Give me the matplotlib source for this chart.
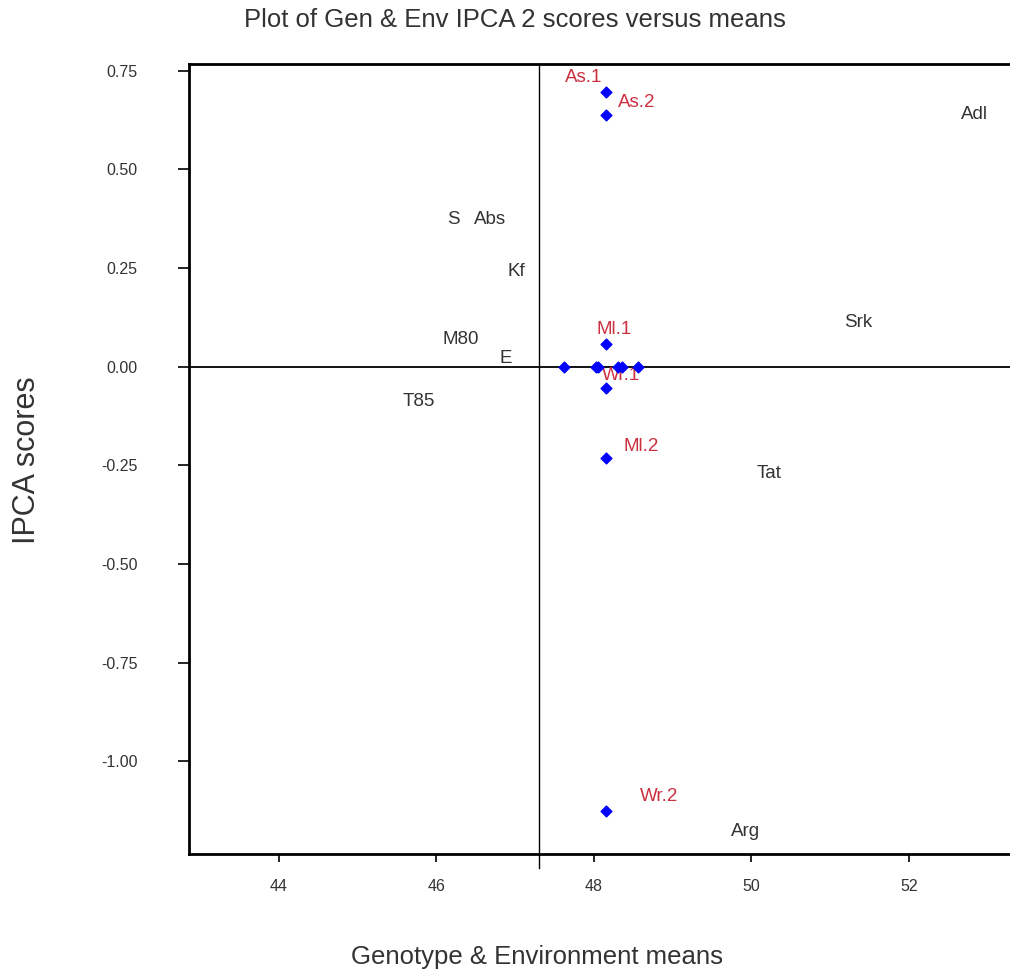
import matplotlib
matplotlib.use("Agg")
import matplotlib.pyplot as plt

plt.rcParams['font.family'] = ['Liberation Sans Narrow', 'Liberation Sans', 'DejaVu Sans']

# genotype labels (text only)
gen_names = ['S', 'Abs', 'Kf', 'M80', 'E', 'T85', 'Adl', 'Srk', 'Tat', 'Arg']
gen_x = [46.21, 46.68, 47.02, 46.31, 46.88, 45.78, 52.84, 51.36, 50.23, 49.93]
gen_y = [0.374, 0.374, 0.241, 0.068, 0.021, -0.089, 0.638, 0.111, -0.270, -1.178]

# environment points (blue) with red labels
env_names = ['As.1', 'As.2', 'Ml.1', 'Wr.1', 'Ml.2', 'Wr.2']
env_x = [48.16, 48.16, 48.16, 48.16, 48.16, 48.16]
env_y = [0.697, 0.637, 0.058, -0.054, -0.232, -1.125]

# further points lying on the zero line
zero_x = [47.62, 48.03, 48.05, 48.31, 48.36, 48.56]
zero_y = [0.0, 0.0, 0.0, 0.0, 0.0, 0.0]

grand_mean = 47.30

# label offsets in pixels relative to the point
env_offsets = [(-23, 14), (30, 13), (8, 14), (15, 13), (35, 12), (53, 14)]

fig = plt.figure(figsize=(10.1, 9.73), dpi=100)
ax = fig.add_axes([0.1871, 0.1223, 0.8139, 0.8119])

xlim = (42.856, 53.3)
ylim = (-1.2346, 0.767)
ax.set_xlim(*xlim)
ax.set_ylim(*ylim)

txt_col = '#333333'
red_col = '#cc3040'

for n, x, y in zip(gen_names, gen_x, gen_y):
    ax.text(x, y, n, ha='center', va='center', fontsize=13.5, color=txt_col)

for n, x, y, off in zip(env_names, env_x, env_y, env_offsets):
    ax.annotate(n, (x, y), xytext=off, textcoords='offset pixels',
                ha='center', va='center', fontsize=13.5, color=red_col, zorder=2)

ax.axhline(0, color='black', lw=1.3, zorder=1)
ax.plot([grand_mean, grand_mean], [ylim[1], ylim[0] - 0.036],
        color='black', lw=1.0, clip_on=False, zorder=1)

ax.scatter(env_x, env_y, marker='D', s=30, color='#0000ff', zorder=3)
ax.scatter(zero_x, zero_y, marker='D', s=30, color='#0000ff', zorder=3)

for s in ['left', 'top', 'bottom']:
    ax.spines[s].set_linewidth(2)
ax.spines['right'].set_visible(False)

ax.set_xticks([44, 46, 48, 50, 52])
ax.set_yticks([0.75, 0.5, 0.25, 0.0, -0.25, -0.5, -0.75, -1.0])
ax.set_yticklabels(['0.75', '0.50', '0.25', '0.00', '-0.25', '-0.50', '-0.75', '-1.00'])
ax.tick_params(axis='y', direction='out', length=8, width=1.2, pad=29,
               labelsize=11.5, labelcolor=txt_col)
ax.tick_params(axis='x', direction='out', length=6, width=1.2, pad=12,
               labelsize=11.5, labelcolor=txt_col)

fig.text(0.51, 0.979, 'Plot of Gen & Env IPCA 2 scores versus means',
         ha='center', va='center', fontsize=18.5, color=txt_col)
fig.text(0.532, 0.016, 'Genotype & Environment means',
         ha='center', va='center', fontsize=18.5, color=txt_col)
fig.text(0.027, 0.527, 'IPCA scores', ha='center', va='center',
         rotation=90, fontsize=22, color=txt_col)

fig.savefig('out.png', dpi=100)
